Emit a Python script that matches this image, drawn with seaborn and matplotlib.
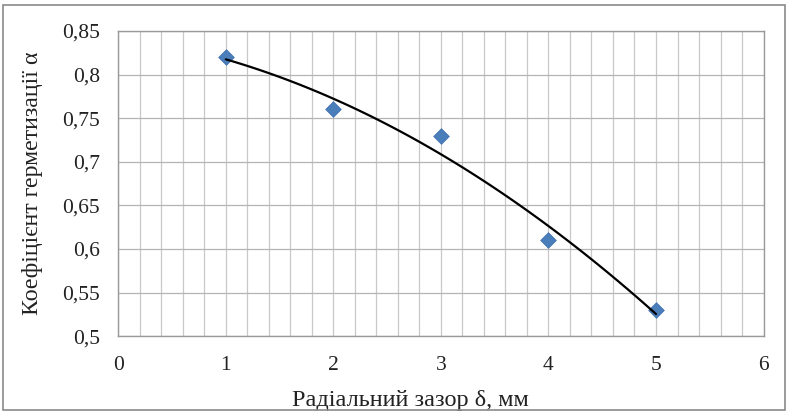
import numpy as np
import pandas as pd
import matplotlib
matplotlib.use("Agg")
import matplotlib.pyplot as plt
import seaborn as sns
from matplotlib.ticker import MultipleLocator, FuncFormatter
from matplotlib.patches import Rectangle

# =========================================================
# DATA
# =========================================================
gap_mm = [1, 2, 3, 4, 5]
seal_coef = [0.82, 0.76, 0.73, 0.61, 0.53]

x_label = "Радіальний зазор δ, мм"
y_label = "Коефіцієнт герметизації α"

df = pd.DataFrame({"gap": gap_mm, "alpha": seal_coef})

# =========================================================
# STYLE
# =========================================================
sns.set_style("white")
plt.rcParams["font.family"] = ["Liberation Serif", "DejaVu Serif"]

fig = plt.figure(figsize=(7.88, 4.12), dpi=100)
ax = fig.add_axes([0.150, 0.184, 0.819, 0.741])

# =========================================================
# PLOT
# =========================================================
sns.scatterplot(data=df, x="gap", y="alpha", marker="D", s=64,
                color="#4a7ebb", edgecolor="#3f6fae", linewidth=0.5,
                ax=ax, zorder=3)
sns.regplot(data=df, x="gap", y="alpha", order=2, ci=None, scatter=False,
            truncate=True, line_kws={"color": "black", "lw": 1.6, "zorder": 4},
            ax=ax)

ax.set_xlim(0, 6)
ax.set_ylim(0.5, 0.85)
ax.xaxis.set_major_locator(MultipleLocator(1))
ax.xaxis.set_minor_locator(MultipleLocator(0.2))
ax.yaxis.set_major_locator(MultipleLocator(0.05))

def comma_fmt(v, pos):
    s = f"{v:.2f}".rstrip("0").rstrip(".")
    return s.replace(".", ",")

ax.xaxis.set_major_formatter(FuncFormatter(comma_fmt))
ax.yaxis.set_major_formatter(FuncFormatter(comma_fmt))

ax.grid(True, which="both", axis="x", color="#c8c8c8", lw=0.9)
ax.grid(True, which="major", axis="y", color="#b4b4b4", lw=0.9)
ax.set_axisbelow(True)
ax.tick_params(which="both", length=0, labelsize=15.5, colors="#222222")
ax.tick_params(axis="y", pad=13)
ax.tick_params(axis="x", pad=14)

for sp in ax.spines.values():
    sp.set_color("#9a9a9a")
    sp.set_linewidth(1)

ax.set_xlabel(x_label, fontsize=17.5, color="#222222", labelpad=8)
ax.xaxis.set_label_coords(0.452, -0.175)
ax.set_ylabel(y_label, fontsize=17.2, color="#222222", labelpad=14)

fig.patches.append(Rectangle((0.004, 0.005), 0.992, 0.982, transform=fig.transFigure,
                             fill=False, edgecolor="#8a8a8a", lw=1.2))

fig.savefig("out.png", dpi=100)
